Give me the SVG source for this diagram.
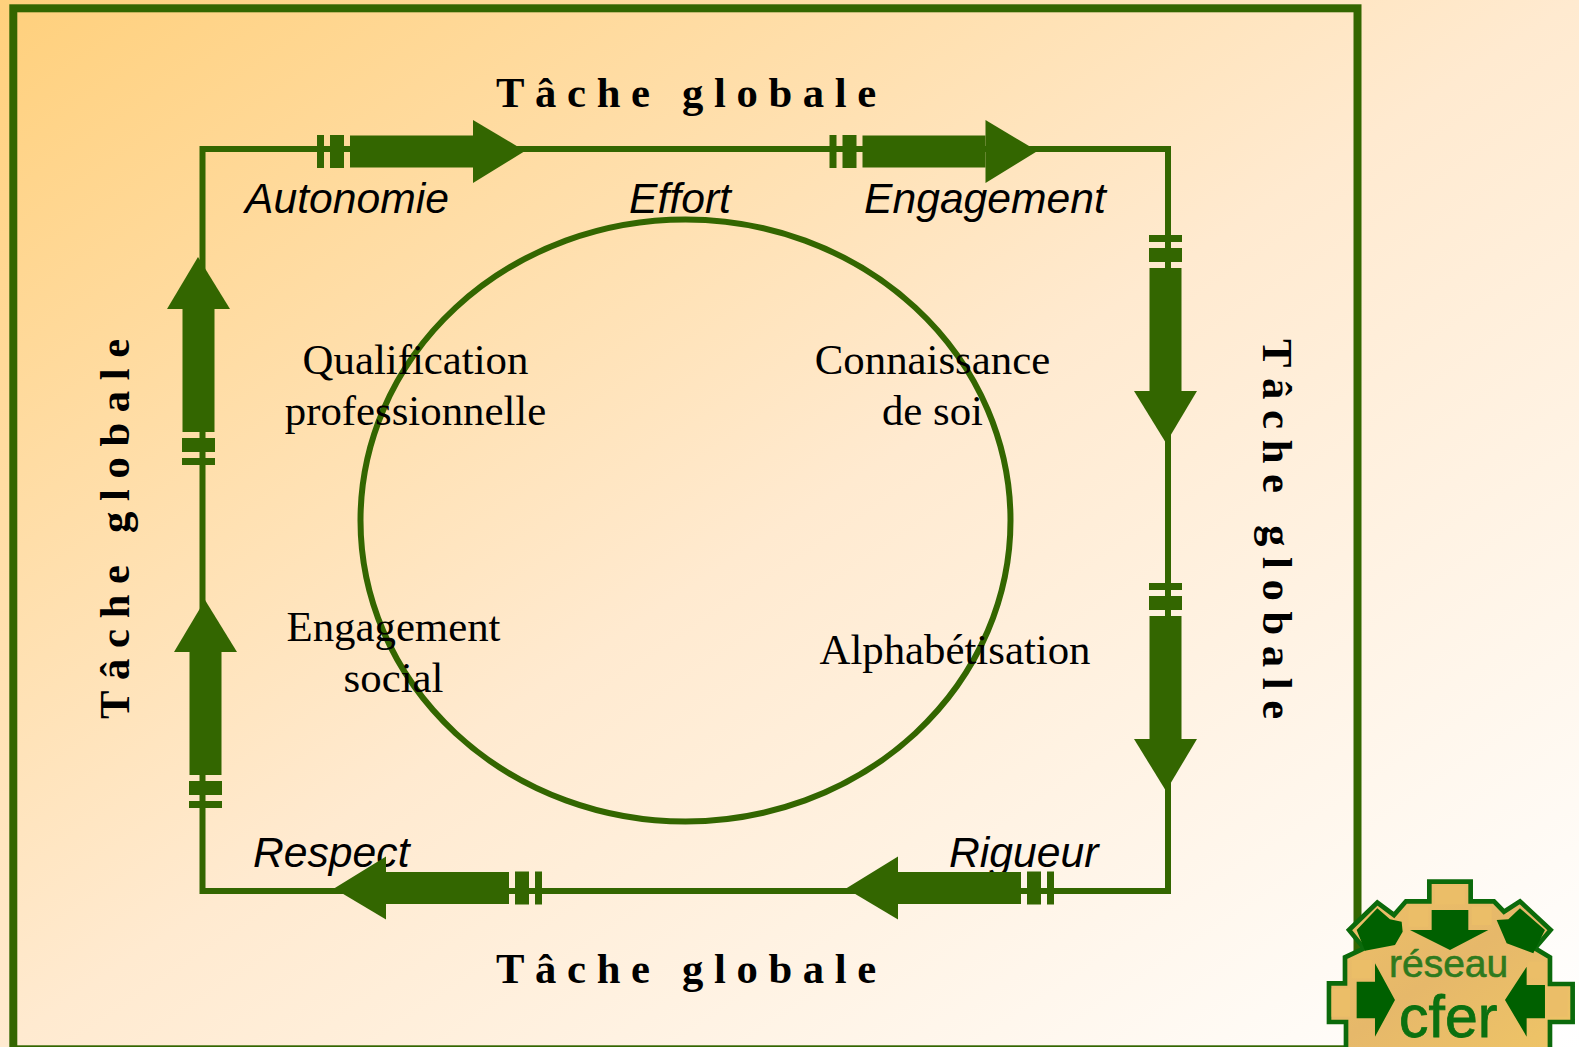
<svg xmlns="http://www.w3.org/2000/svg" width="1579" height="1047" viewBox="0 0 1579 1047">
<style>
.g{fill:#336600}
.sans{font-family:"Liberation Sans",Arial,sans-serif;font-style:italic;font-size:42.67px;fill:#000}
.serif{font-family:"Liberation Serif","Times New Roman",serif;font-size:42.8px;fill:#000;text-anchor:middle}
.tg{font-family:"Liberation Serif","Times New Roman",serif;font-weight:bold;font-size:42.67px;letter-spacing:10.65px;fill:#000}
.line{fill:none;stroke:#336600;stroke-width:6}
.dk{fill:#006000}
.lt{fill:#EBBE68}
</style>
<defs>
<linearGradient id="bg" x1="0" y1="0" x2="1" y2="1">
<stop offset="0" stop-color="#FFD07C"/>
<stop offset="0.5" stop-color="#FFEAD0"/>
<stop offset="1" stop-color="#FFFFFF"/>
</linearGradient>
<linearGradient id="lg" x1="0" y1="0" x2="1" y2="1">
<stop offset="0" stop-color="#EDC066"/>
<stop offset="0.5" stop-color="#E6B86A"/>
<stop offset="1" stop-color="#EFC566"/>
</linearGradient>
<g id="ar">
<rect class="g" x="0" y="-16.5" width="7" height="33"/>
<rect class="g" x="13" y="-16.5" width="14" height="33"/>
<rect class="g" x="33" y="-16" width="123" height="32"/>
<path class="g" d="M156 -31.5L208 -0.5L156 31.5Z"/>
</g>
</defs>
<rect width="1579" height="1047" fill="url(#bg)"/>
<rect id="frame" x="13.3" y="8.3" width="1344.2" height="1041" fill="none" stroke="#336600" stroke-width="8"/>

<g id="labels">
<text class="sans" x="245" y="213">Autonomie</text>
<text class="sans" x="629" y="213">Effort</text>
<text class="sans" x="864" y="213">Engagement</text>
<text class="sans" x="253" y="867">Respect</text>
<text class="sans" x="949" y="867">Rigueur</text>
</g>
<g id="tache-top"><text class="tg" x="496" y="107">Tâche globale</text></g>
<g id="tache-bottom"><text class="tg" x="496" y="983">Tâche globale</text></g>
<g id="tache-left"><text class="tg" transform="translate(129 719) rotate(-90)">Tâche globale</text></g>
<g id="tache-right"><text class="tg" transform="translate(1263 339) rotate(90)">Tâche globale</text></g>

<g id="circle"><ellipse class="line" cx="685.5" cy="520.5" rx="325" ry="301"/></g>
<g id="qualification"><text class="serif" x="415.5" y="374">Qualification</text><text class="serif" x="415.5" y="425">professionnelle</text></g>
<g id="connaissance"><text class="serif" x="932.5" y="374">Connaissance</text><text class="serif" x="932.5" y="425">de soi</text></g>
<g id="engagement-social"><text class="serif" x="393.5" y="641">Engagement</text><text class="serif" x="393.5" y="692">social</text></g>
<g id="alphabetisation"><text class="serif" x="955" y="664">Alphabétisation</text></g>

<g id="connectors">
<path class="line" d="M202.5 891V149H1168V891Z"/>
<use href="#ar" transform="translate(317 151.5)"/>
<use href="#ar" transform="translate(829.5 151.5)"/>
<use href="#ar" transform="translate(1165.5 235) rotate(90)"/>
<use href="#ar" transform="translate(1165.5 583) rotate(90)"/>
<use href="#ar" transform="translate(1054 888) rotate(180)"/>
<use href="#ar" transform="translate(542 888) rotate(180)"/>
<use href="#ar" transform="translate(198.5 465) rotate(-90)"/>
<use href="#ar" transform="translate(205.5 808) rotate(-90)"/>
</g>

<g id="logo">
<g transform="translate(1300 860) scale(0.3333)">
<path d="M388 65H512V124H582L612 155L660 124L752 210L705 265L750 292V372H818V486H750V570H138V486H87V370H135V292L192 265L147 210L232 128L282 165L318 124H388Z" fill="url(#lg)" stroke="#0B6A0B" stroke-width="14"/>
<rect class="lt" x="405" y="78" width="90" height="55"/>
<rect class="lt" x="325" y="140" width="60" height="60"/>
<rect class="lt" x="515" y="140" width="60" height="55"/>
<rect class="lt" x="155" y="300" width="60" height="55"/>
<rect class="lt" x="685" y="305" width="55" height="50"/>
<rect class="lt" x="95" y="385" width="55" height="85"/>
<rect class="lt" x="748" y="385" width="55" height="85"/>
<path class="dk" d="M395 150H505V210H565L450 270L330 210H395Z"/>
<path class="dk" d="M232 145L270 178L305 185L308 215L285 255L195 272L170 210Z"/>
<path class="dk" d="M660 145L735 210L700 280L620 250L590 180L625 178Z"/>
<path class="dk" d="M170 365H225V310L285 420L225 530V475H170Z"/>
<path class="dk" d="M735 375H680V320L615 420L680 530V475H735Z"/>
</g>
<text x="1389" y="977" font-family="Liberation Sans,Arial,sans-serif" font-size="39" fill="#2E7A1E" stroke="#2E7A1E" stroke-width="0.6">réseau</text>
<text x="1399" y="1037" font-family="Liberation Sans,Arial,sans-serif" font-size="59" fill="#0B7010" stroke="#0B7010" stroke-width="0.8">cfer</text>
</g>
</svg>
